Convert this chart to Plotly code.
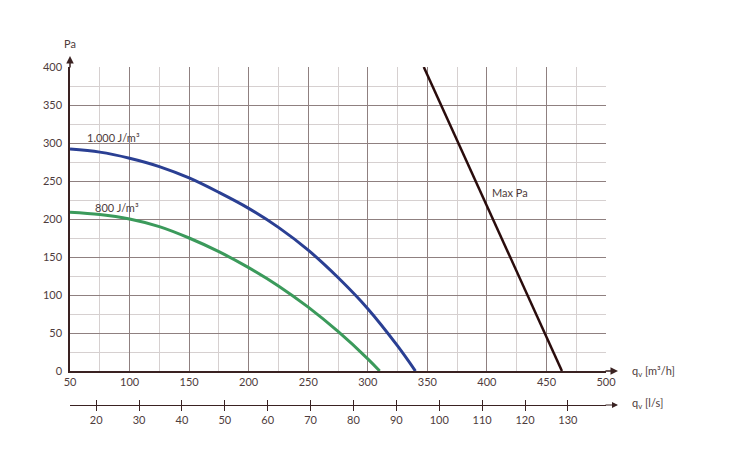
import plotly.graph_objects as go

# ---- data ----
m3h_1000 = [50, 75, 100, 125, 150, 175, 200, 225, 250, 275, 300, 325, 340]
pa_1000 = [292, 288, 280, 269, 254, 235, 214, 189, 159, 123, 82, 33, 0]
m3h_800 = [50, 75, 100, 125, 150, 175, 200, 225, 250, 275, 300, 310]
pa_800 = [209, 206, 200, 190, 175, 157, 136, 112, 84, 52, 16, 0]
m3h_max = [347, 463]
pa_max = [400, 0]
x_ticks = [50, 100, 150, 200, 250, 300, 350, 400, 450, 500]
y_ticks = [0, 50, 100, 150, 200, 250, 300, 350, 400]
ls_ticks = [20, 30, 40, 50, 60, 70, 80, 90, 100, 110, 120, 130]
M3H_PER_LS = 3.6
X_RANGE = [50, 500]
Y_RANGE = [0, 400]

# ---- style ----
FONT = "Lato"
TXT = "#4e3c3c"
AXIS = "#3a2222"
GRID_MAJOR = "#8f8080"
GRID_MINOR = "#d6d0d0"
BLUE = "#2a3f93"
GREEN = "#3b9a5b"
BLACK = "#2a0c0c"

fig = go.Figure()
fig.add_trace(go.Scatter(x=m3h_1000, y=pa_1000, mode="lines",
                         line=dict(color=BLUE, width=3, shape="spline", smoothing=1.0),
                         hoverinfo="skip", showlegend=False))
fig.add_trace(go.Scatter(x=m3h_800, y=pa_800, mode="lines",
                         line=dict(color=GREEN, width=3, shape="spline", smoothing=1.0),
                         hoverinfo="skip", showlegend=False))
fig.add_trace(go.Scatter(x=m3h_max, y=pa_max, mode="lines",
                         line=dict(color=BLACK, width=2.5),
                         hoverinfo="skip", showlegend=False))
# invisible traces so the l/s axes are drawn
for ax in ["x2", "x3"]:
    fig.add_trace(go.Scatter(x=ls_ticks, y=[0] * len(ls_ticks), xaxis=ax, yaxis="y",
                             mode="markers", marker=dict(opacity=0),
                             hoverinfo="skip", showlegend=False))

# page body has an 8px default margin: compensate
W, H = 742, 455
ml, mr, mt, mb = 62, 144, 59, 58
plot_w = W - ml - mr
plot_h = H - mt - mb
y_dom0 = 34 / plot_h

tickfont = dict(family=FONT, size=11, color=TXT)
ls_range = [X_RANGE[0] / M3H_PER_LS, X_RANGE[1] / M3H_PER_LS]

fig.update_layout(
    width=W, height=H,
    margin=dict(l=ml, r=mr, t=mt, b=mb),
    paper_bgcolor="white", plot_bgcolor="white",
    font=dict(family=FONT, color=TXT),
    xaxis=dict(range=X_RANGE, tickvals=x_ticks, showgrid=True, gridcolor=GRID_MAJOR,
               gridwidth=1, minor=dict(dtick=25, showgrid=True, gridcolor=GRID_MINOR, gridwidth=1),
               showline=True, linecolor=AXIS, linewidth=1.5, ticks="", zeroline=False,
               tickfont=tickfont, anchor="y"),
    yaxis=dict(domain=[y_dom0, 1], range=Y_RANGE, tickvals=y_ticks, showgrid=True,
               gridcolor=GRID_MAJOR, gridwidth=1,
               minor=dict(dtick=25, showgrid=True, gridcolor=GRID_MINOR, gridwidth=1),
               showline=True, linecolor=AXIS, linewidth=1.5, ticks="", zeroline=False,
               tickfont=tickfont, ticklabelstandoff=4),
    xaxis2=dict(overlaying="x", anchor="free", position=0, range=ls_range,
                tickvals=ls_ticks, ticks="outside", ticklen=5, tickwidth=1.2,
                tickcolor=AXIS, showline=True, linecolor=AXIS, linewidth=1.2,
                showgrid=False, zeroline=False, tickfont=tickfont, side="bottom"),
    xaxis3=dict(overlaying="x", anchor="free", position=0, range=ls_range,
                tickvals=ls_ticks, ticks="inside", ticklen=5, tickwidth=1.2,
                tickcolor=AXIS, showline=False, showticklabels=False,
                showgrid=False, zeroline=False, side="bottom"),
)

x_tip = 1 + 12 / plot_w
annots = [
    # arrows
    dict(x=x_tip, xref="paper", y=0, yref="y", ax=-14, ay=0, text="", showarrow=True,
         arrowhead=2, arrowsize=1, arrowwidth=1.5, arrowcolor=AXIS),
    dict(x=x_tip, xref="paper", y=0, yref="paper", ax=-14, ay=0, text="", showarrow=True,
         arrowhead=2, arrowsize=1, arrowwidth=1.2, arrowcolor=AXIS),
    dict(x=X_RANGE[0], xref="x", y=1 + 11 / plot_h, yref="paper", ax=0, ay=13, text="",
         showarrow=True, arrowhead=2, arrowsize=1, arrowwidth=1.5, arrowcolor=AXIS),
    # axis titles
    dict(x=0, xref="paper", y=1 + 24 / plot_h, yref="paper", text="Pa", showarrow=False,
         xanchor="center", yanchor="middle", font=dict(family=FONT, size=11, color=TXT)),
    dict(x=1 + 24 / plot_w, xref="paper", y=0, yref="y", text="q<sub>v</sub> [m³/h]",
         showarrow=False, xanchor="left", yanchor="middle",
         font=dict(family=FONT, size=11, color=TXT)),
    dict(x=1 + 24 / plot_w, xref="paper", y=2 / plot_h, yref="paper", text="q<sub>v</sub> [l/s]",
         showarrow=False, xanchor="left", yanchor="middle",
         font=dict(family=FONT, size=11, color=TXT)),
    # curve labels
    dict(x=62.5, y=307, xref="x", yref="y", text="1.000 J/m³", showarrow=False,
         xanchor="left", yanchor="middle", font=dict(family=FONT, size=11, color=TXT)),
    dict(x=69, y=215, xref="x", yref="y", text="800 J/m³", showarrow=False,
         xanchor="left", yanchor="middle", font=dict(family=FONT, size=11, color=TXT)),
    dict(x=402.5, y=235, xref="x", yref="y", text="Max Pa", showarrow=False,
         xanchor="left", yanchor="middle", font=dict(family=FONT, size=11, color=TXT)),
]
fig.update_layout(annotations=annots)

fig.write_html("out.html")
